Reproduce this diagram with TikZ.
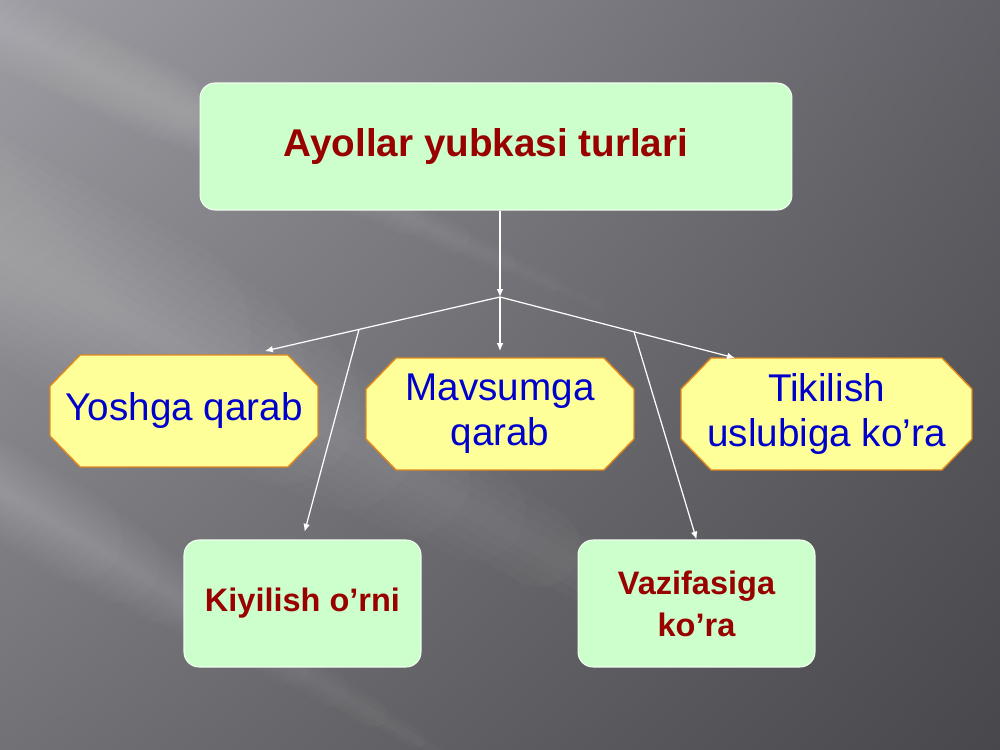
\documentclass[tikz,border=0pt]{standalone}
\usepackage{fontspec}
\setmainfont{Liberation Sans}
\usetikzlibrary{calc,arrows.meta,shadings}
\definecolor{boxgreen}{HTML}{CCFFCC}
\definecolor{boxyellow}{HTML}{FFFF99}
\definecolor{edgeorange}{HTML}{E08A1E}
\definecolor{textred}{HTML}{990000}
\definecolor{textblue}{HTML}{0000CC}
\definecolor{bgul}{HTML}{9E9DA3}
\definecolor{bgur}{HTML}{626167}
\definecolor{bgll}{HTML}{727176}
\definecolor{bglr}{HTML}{48474B}
\pgfdeclarelayer{back}
\pgfdeclarelayer{panel}
\pgfsetlayers{back,panel,main}
\tikzset{
  greenbox/.style={rounded corners=0.3cm, fill=boxgreen, draw=white!70!boxgreen,
    line width=0.6pt, align=center, text=textred},
  yellowbox/.style={rectangle, outer sep=0pt, align=center, text=textblue,
    minimum height=2.24cm, font=\fontsize{22}{25.5}\selectfont},
  octagon/.style={fill=boxyellow, draw=edgeorange, line width=0.8pt},
  streak/.style={white, opacity=0.018, line cap=round},
  link/.style={white, line width=0.7pt, -{Latex[length=4.5pt,width=3.8pt]}}
}

\begin{document}
\begin{tikzpicture}[x=0.02cm, y=-0.02cm]
			\useasboundingbox (0, 0) rectangle (1000, 750);
			%%%%% BACKGROUND %%%%%
			\begin{pgfonlayer}{back}
			\shade[upper left=bgul, upper right=bgur, lower left=bgll, lower right=bglr]
			  (0, 0) rectangle (1000, 750);
			\clip (0, 0) rectangle (1000, 750);
			\coordinate (s1a) at (-200, 140); \coordinate (s1b) at (800, 690);
			\coordinate (s2a) at (-150, 400); \coordinate (s2b) at (500, 790);
			\coordinate (s3a) at (-100, -20); \coordinate (s3b) at (650, 330);
			\foreach \w in {1,...,10} {
			  \pgfmathsetmacro\t{1-0.065*\w}
			  \draw[streak, line width=\w*0.4cm] (s1a) -- ($(s1a)!\t!(s1b)$);
			  \draw[streak, line width=\w*0.18cm] (s2a) -- ($(s2a)!\t!(s2b)$);
			  \draw[streak, line width=\w*0.15cm] (s3a) -- ($(s3a)!\t!(s3b)$);
			}
			\end{pgfonlayer}
			
			%%%%% BOXES %%%%%
			\node[greenbox, minimum width=11.84cm, minimum height=2.54cm,
			  font=\bfseries\fontsize{22}{26}\selectfont] (title) at (496, 146.5) {Ayollar yubkasi turlari\hspace*{0.4cm}};
			
			\node[yellowbox, minimum width=5.36cm] (yoshga) at (184, 411) {Yoshga qarab};
			\node[yellowbox, minimum width=5.36cm] (mavsum) at (500, 414) {Mavsumga\\qarab};
			\node[yellowbox, minimum width=5.82cm] (tikilish) at (826.5, 414) {Tikilish\\uslubiga ko’ra};
			
			\node[greenbox, minimum width=4.74cm, minimum height=2.54cm,
			  font=\bfseries\fontsize{18.5}{23.8}\selectfont] (kiyilish) at (302.5, 603.5) {Kiyilish o’rni};
			\node[greenbox, minimum width=4.74cm, minimum height=2.54cm,
			  font=\bfseries\fontsize{18.5}{23.8}\selectfont] (vazifa) at (696.5, 603.5) {Vazifasiga\\ko’ra};
			
			\begin{pgfonlayer}{panel}
			\foreach \n in {yoshga, mavsum, tikilish}
			  \draw[octagon] ([xshift=0.6cm]\n.north west) -- ([xshift=-0.6cm]\n.north east)
			    -- ([yshift=-0.62cm]\n.north east) -- ([yshift=0.62cm]\n.south east)
			    -- ([xshift=-0.6cm]\n.south east) -- ([xshift=0.6cm]\n.south west)
			    -- ([yshift=0.62cm]\n.south west) -- ([yshift=-0.62cm]\n.north west) -- cycle;
			\end{pgfonlayer}
			
			%%%%% CONNECTORS %%%%%
			\coordinate (hub) at (500, 297);
			\coordinate (toyoshga) at ([xshift=1.62cm, yshift=0.08cm]yoshga.north);
			\coordinate (totikilish) at ([xshift=-1.83cm]tikilish.north);
			\coordinate (lsplit) at ($(hub)!0.6!(toyoshga)$);
			\coordinate (rsplit) at ($(hub)!0.57!(totikilish)$);
			
			\draw[link] (hub |- title.south) -- (hub);
			\draw[link] (hub) -- (toyoshga);
			\draw[link, shorten >=0.14cm] (hub) -- (mavsum.north);
			\draw[link] (hub) -- (totikilish);
			\draw[link, shorten >=0.16cm] (lsplit) -- (kiyilish.north);
			\draw[link] (rsplit) -- (vazifa.north);
		\end{tikzpicture}
\end{document}
